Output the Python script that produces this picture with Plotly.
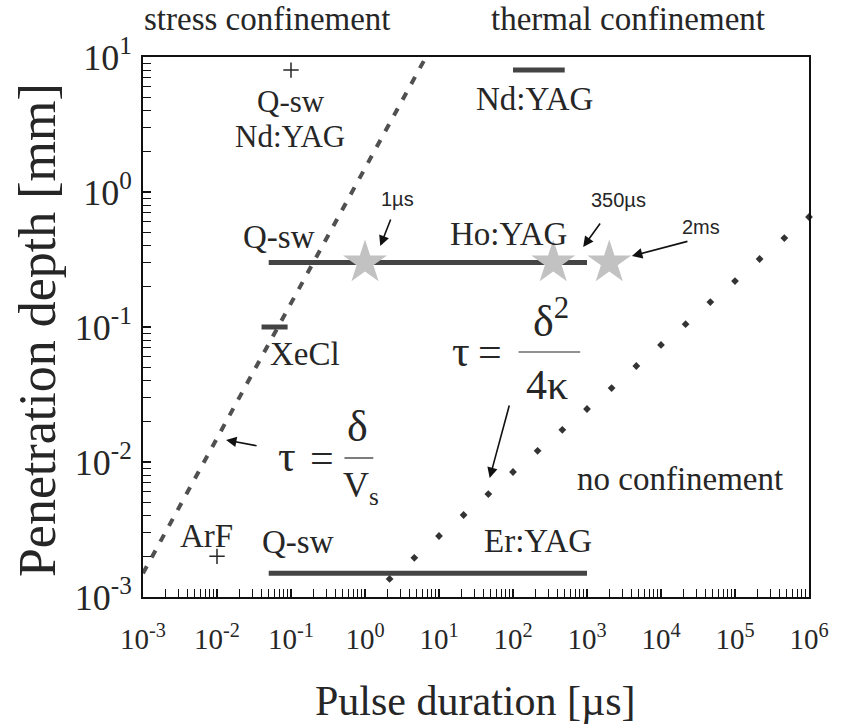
import math
import plotly.graph_objects as go

# ---- data (pulse duration in µs, penetration depth in mm) ----
# laser operating ranges drawn as horizontal bars
ho_yag_tau = [0.05, 1000]
ho_yag_delta = [0.3, 0.3]
er_yag_tau = [0.05, 1000]
er_yag_delta = [0.0015, 0.0015]
nd_yag_tau = [100, 500]
nd_yag_delta = [8, 8]
xecl_tau = [0.04, 0.09]
xecl_delta = [0.1, 0.1]

# single-point lasers (plus markers)
point_tau = [0.1, 0.01]
point_delta = [8, 0.002]

# stars marking Ho:YAG pulse durations
star_tau = [1, 350, 2000]
star_delta = [0.3, 0.3, 0.3]
star_labels = ["1µs", "350µs", "2ms"]

# stress confinement boundary  tau = delta / v_s
stress_tau = [0.001, 6.67]
stress_delta = [0.0015, 10]

# thermal confinement boundary  tau = delta^2 / 4 kappa
thermal_tau = [2.15, 4.64, 10, 21.5, 46.4, 100, 215, 464, 1000, 2150, 4640,
               10000, 21500, 46400, 100000, 215000, 464000, 1000000]
thermal_delta = [0.00136, 0.00195, 0.00283, 0.00405, 0.00579, 0.00843, 0.0121,
                 0.0173, 0.0247, 0.0353, 0.0514, 0.0736, 0.105, 0.153, 0.219,
                 0.319, 0.456, 0.653]

x_tick_exp = [-3, -2, -1, 0, 1, 2, 3, 4, 5, 6]
y_tick_exp = [-3, -2, -1, 0, 1]

SERIF = "Liberation Serif, Times New Roman, Times, serif"
SANS = "Liberation Sans, Arial, sans-serif"
INK = "#262626"
BAR = "#444444"

# plot-area frame in page pixels
X0, X1, Y0, Y1 = 142.5, 812, 57, 597
W, H = 841, 728


def paper(px, py):
    return (px - X0) / (X1 - X0), (Y1 - py) / (Y1 - Y0)


fig = go.Figure()

for tx, ty in [(ho_yag_tau, ho_yag_delta), (er_yag_tau, er_yag_delta),
               (nd_yag_tau, nd_yag_delta), (xecl_tau, xecl_delta)]:
    fig.add_trace(go.Scatter(x=tx, y=ty, mode="lines",
                             line=dict(color=BAR, width=5), hoverinfo="skip"))

fig.add_trace(go.Scatter(x=stress_tau, y=stress_delta, mode="lines",
                         line=dict(color="#505050", width=4, dash="8px,10px"),
                         hoverinfo="skip"))

fig.add_trace(go.Scatter(x=thermal_tau, y=thermal_delta, mode="markers",
                         marker=dict(symbol="diamond", size=6, color="#333333"),
                         hoverinfo="skip", cliponaxis=False))

fig.add_trace(go.Scatter(x=point_tau, y=point_delta, mode="markers",
                         marker=dict(symbol="cross-thin", size=11,
                                     line=dict(color=INK, width=1.5)),
                         hoverinfo="skip"))

fig.add_trace(go.Scatter(x=star_tau, y=star_delta, mode="markers",
                         marker=dict(symbol="star", size=33, color="#c2c2c2",
                                     line=dict(width=0)),
                         hoverinfo="skip"))

annotations = []


def label(text, px, py, size=33, font=SERIF, **kw):
    xp, yp = paper(px, py)
    annotations.append(dict(text=text, x=xp, y=yp, xref="paper", yref="paper",
                            xanchor="center", yanchor="middle", showarrow=False,
                            font=dict(family=font, size=size, color=INK), **kw))


def arrow(tail, head):
    xp, yp = paper(*head)
    annotations.append(dict(text="", x=xp, y=yp, xref="paper", yref="paper",
                            ax=tail[0] - head[0], ay=tail[1] - head[1],
                            showarrow=True, arrowhead=2, arrowsize=1.3,
                            arrowwidth=1.6, arrowcolor="#111111"))


# region titles
label("stress confinement", 268, 19, size=33)
label("thermal confinement", 630, 19, size=33)

# laser names
label("Q-sw", 291, 101, size=31)
label("Nd:YAG", 290, 136, size=31)
label("Nd:YAG", 536, 99)
label("Q-sw", 279, 237)
label("Ho:YAG", 510, 234)
label("XeCl", 305, 354)
label("ArF", 206, 536)
label("Q-sw", 298, 542)
label("Er:YAG", 540, 541)
label("no confinement", 682, 479)

# star call-outs
label(star_labels[0], 398, 199, size=20, font=SANS)
arrow((392, 218), (381, 246))
label(star_labels[1], 620, 200, size=20, font=SANS)
arrow((603, 222), (585, 247))
label(star_labels[2], 703, 227, size=20, font=SANS)
arrow((691, 241), (634, 256))

# tau = delta / v_s
label("τ", 287, 456, size=44)
label("=", 322, 458, size=42)
label("δ", 358, 426, size=44)
label("V<sub>s</sub>", 362, 487, size=36)
arrow((258, 446), (226, 440))

# tau = delta^2 / 4 kappa
label("τ", 462, 351, size=44)
label("=", 491, 352, size=42)
label("δ<sup>2</sup>", 553, 318, size=44)
label("4κ", 549, 385, size=42)
arrow((511, 404), (491, 478))

shapes = [
    dict(type="line", xref="paper", yref="paper",
         x0=paper(345, 0)[0], x1=paper(374, 0)[0],
         y0=paper(0, 458)[1], y1=paper(0, 458)[1],
         line=dict(color=INK, width=1.2)),
    dict(type="line", xref="paper", yref="paper",
         x0=paper(520, 0)[0], x1=paper(582, 0)[0],
         y0=paper(0, 352)[1], y1=paper(0, 352)[1],
         line=dict(color=INK, width=1.2)),
]

# axis titles
label("Pulse duration [µs]", 477, 701, size=42)
label("Penetration depth [mm]", 36, 330, size=52, textangle=-90)

axis_common = dict(
    type="log", showgrid=False, zeroline=False,
    showline=True, linecolor="#111111", linewidth=2, mirror=True,
    ticks="inside", ticklen=8, tickwidth=1.5, tickcolor="#111111",
    minor=dict(ticks="inside", ticklen=8, tickwidth=1.2, tickcolor="#111111",
               dtick="D1", showgrid=False),
)

fig.update_layout(
    width=W, height=H,
    margin=dict(l=X0, r=W - X1, t=Y0, b=H - Y1),
    paper_bgcolor="white", plot_bgcolor="white",
    showlegend=False,
    annotations=annotations,
    shapes=shapes,
    xaxis=dict(axis_common, range=[-3, 6],
               tickvals=[10 ** e for e in x_tick_exp],
               ticktext=[f"10<sup>{e}</sup>" for e in x_tick_exp],
               tickfont=dict(family=SERIF, size=29, color=INK),
               ticklabelstandoff=15),
    yaxis=dict(axis_common, range=[-3, 1],
               tickvals=[10 ** e for e in y_tick_exp],
               ticktext=[f"10<sup>{e}</sup>" for e in y_tick_exp],
               tickfont=dict(family=SERIF, size=36, color=INK),
               ticklabelstandoff=2),
)

fig.write_html("out.html")
